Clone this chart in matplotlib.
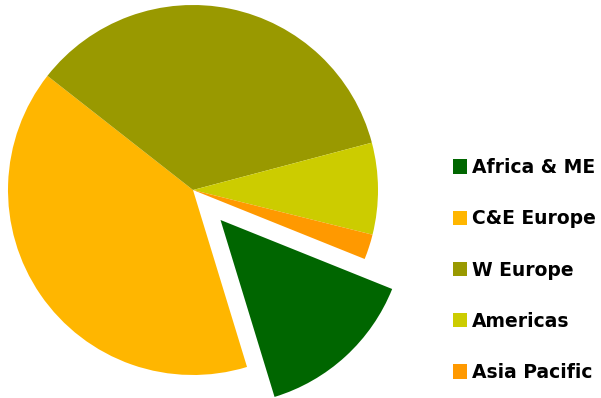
import matplotlib
matplotlib.use("Agg")
import matplotlib.pyplot as plt
from matplotlib.patches import Patch

# Regional share (%), in legend order
regions = ["Africa & ME", "C&E Europe", "W Europe", "Americas", "Asia Pacific"]
shares = [14.2, 40.3, 35.3, 8.0, 2.2]
colors = ["#006600", "#FFB600", "#999900", "#CCCC00", "#FF9900"]
explode = [0.22, 0, 0, 0, 0]

W, H, DPI = 601, 398, 100
fig = plt.figure(figsize=(W / DPI, H / DPI), dpi=DPI)

# Pie centred at (193, 190) px with radius 185 px; axes padded so the
# exploded wedge is not clipped
cx, cy, r, pad = 193, 190, 185, 1.3
half = r * pad
ax = fig.add_axes([(cx - half) / W, (H - cy - half) / H, 2 * half / W, 2 * half / H])
ax.pie(shares, colors=colors, explode=explode, startangle=-21.9,
       counterclock=False, wedgeprops=dict(linewidth=0))
ax.set_xlim(-pad, pad)
ax.set_ylim(-pad, pad)
ax.set_aspect("equal")
ax.axis("off")

handles = [Patch(facecolor=c, edgecolor="none") for c in colors]
fig.legend(handles, regions, loc="upper left",
           bbox_to_anchor=(453 / W, 1 - 158 / H), frameon=False,
           prop=dict(weight="bold", size=13.5),
           handlelength=0.75, handleheight=0.78, handletextpad=0.27,
           labelspacing=1.72, borderpad=0, borderaxespad=0)

fig.savefig("out.png", dpi=DPI)
